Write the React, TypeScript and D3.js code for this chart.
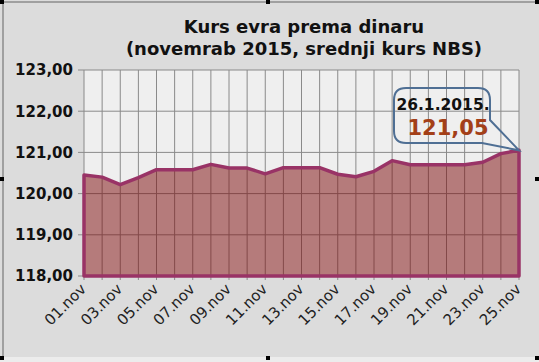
import React from "react";
import * as d3 from "d3";

const days = [
  "01.nov", "02.nov", "03.nov", "04.nov", "05.nov", "06.nov", "07.nov", "08.nov", "09.nov",
  "10.nov", "11.nov", "12.nov", "13.nov", "14.nov", "15.nov", "16.nov", "17.nov", "18.nov",
  "19.nov", "20.nov", "21.nov", "22.nov", "23.nov", "24.nov", "25.nov",
];
const rates = [
  120.45, 120.4, 120.22, 120.39, 120.58, 120.58, 120.58, 120.71, 120.62,
  120.62, 120.48, 120.63, 120.63, 120.63, 120.47, 120.41, 120.54, 120.8,
  120.7, 120.7, 120.7, 120.7, 120.76, 120.97, 121.05,
];
const yTicks = [118, 119, 120, 121, 122, 123];
const titleLines = ["Kurs evra prema dinaru", "(novemrab 2015, srednji kurs NBS)"];
const calloutDate = "26.1.2015.";
const calloutValue = "121,05";

const W = 539;
const H = 362;
const font = "'DejaVu Sans', sans-serif";

export default function App() {
  const x = d3.scalePoint<string>().domain(days).range([84, 519]);
  const y = d3.scaleLinear().domain([118, 123]).range([276, 70]);
  const fmt = (v: number) => d3.format(".2f")(v).replace(".", ",");

  const pts = days.map((d, i) => ({ d, v: rates[i] }));
  const area = d3
    .area<{ d: string; v: number }>()
    .x((p) => x(p.d)!)
    .y0(y(118))
    .y1((p) => y(p.v));

  const x0 = x(days[0])!;
  const x1 = x(days[days.length - 1])!;
  const tipX = x1;
  const tipY = y(rates[rates.length - 1]);

  // callout bubble
  const bx0 = 394, bx1 = 490, by0 = 88, by1 = 143, r = 12;
  const bubble = `M${bx0 + r},${by0} H${bx1 - r} Q${bx1},${by0} ${bx1},${by0 + r} V120 L${tipX},${tipY} L${bx1 - 8},${by1} H${bx0 + r} Q${bx0},${by1} ${bx0},${by1 - r} V${by0 + r} Q${bx0},${by0} ${bx0 + r},${by0} Z`;

  const handles = [
    [0, 0], [266, 0], [535, 0], [0, 177], [535, 177], [0, 356], [266, 356], [535, 356],
  ];

  return (
    <svg
      width={W}
      height={H}
      style={{ position: "absolute", left: 0, top: 0, display: "block" }}
      fontFamily={font}
    >
      <rect x={0} y={0} width={W} height={H} fill="#dcdcdc" />
      <rect x={0} y={357} width={W} height={5} fill="#ececec" />
      <line x1={0} x2={W} y1={2} y2={2} stroke="#8c8c8c" strokeWidth={1.5} />
      <line x1={3} x2={3} y1={0} y2={357} stroke="#8c8c8c" strokeWidth={1.5} />
      {handles.map(([hx, hy], i) => (
        <rect key={i} x={hx} y={hy} width={4} height={4} fill="#000" />
      ))}

      {titleLines.map((t, i) => (
        <text
          key={t}
          x={304}
          y={33 + i * 22}
          textAnchor="middle"
          fontSize={18}
          fontWeight="bold"
          fill="#111"
        >
          {t}
        </text>
      ))}

      {/* plot area */}
      <rect x={x0} y={y(123)} width={x1 - x0} height={y(118) - y(123)} fill="#efefef" />
      {days.map((d) => (
        <line key={d} x1={x(d)} x2={x(d)} y1={y(123)} y2={y(118) + 4} stroke="#8a8a8a" strokeWidth={1} />
      ))}
      {yTicks.map((t) => (
        <g key={t}>
          <line x1={x0 - 6} x2={x1} y1={y(t)} y2={y(t)} stroke="#8a8a8a" strokeWidth={1} />
          <text x={73} y={y(t)} dy="0.36em" textAnchor="end" fontSize={15} fontWeight="bold" fill="#111">
            {fmt(t)}
          </text>
        </g>
      ))}

      <path
        d={area(pts) + "Z"}
        fill="rgb(123,8,8)"
        fillOpacity={0.5}
        stroke="#993366"
        strokeWidth={3.5}
        strokeLinejoin="round"
      />

      {days.map((d, i) =>
        i % 2 === 0 ? (
          <text
            key={d}
            transform={`translate(${x(d)! + 3},${290}) rotate(-45)`}
            textAnchor="end"
            fontSize={15}
            fill="#222"
          >
            {d}
          </text>
        ) : null
      )}

      <path d={bubble} fill="none" stroke="#4f6f94" strokeWidth={2} />
      <text x={443} y={110} textAnchor="middle" fontSize={15.5} fontWeight="bold" fill="#111">
        {calloutDate}
      </text>
      <text x={448} y={135} textAnchor="middle" fontSize={21} fontWeight="bold" fill="#a33f18">
        {calloutValue}
      </text>
    </svg>
  );
}
